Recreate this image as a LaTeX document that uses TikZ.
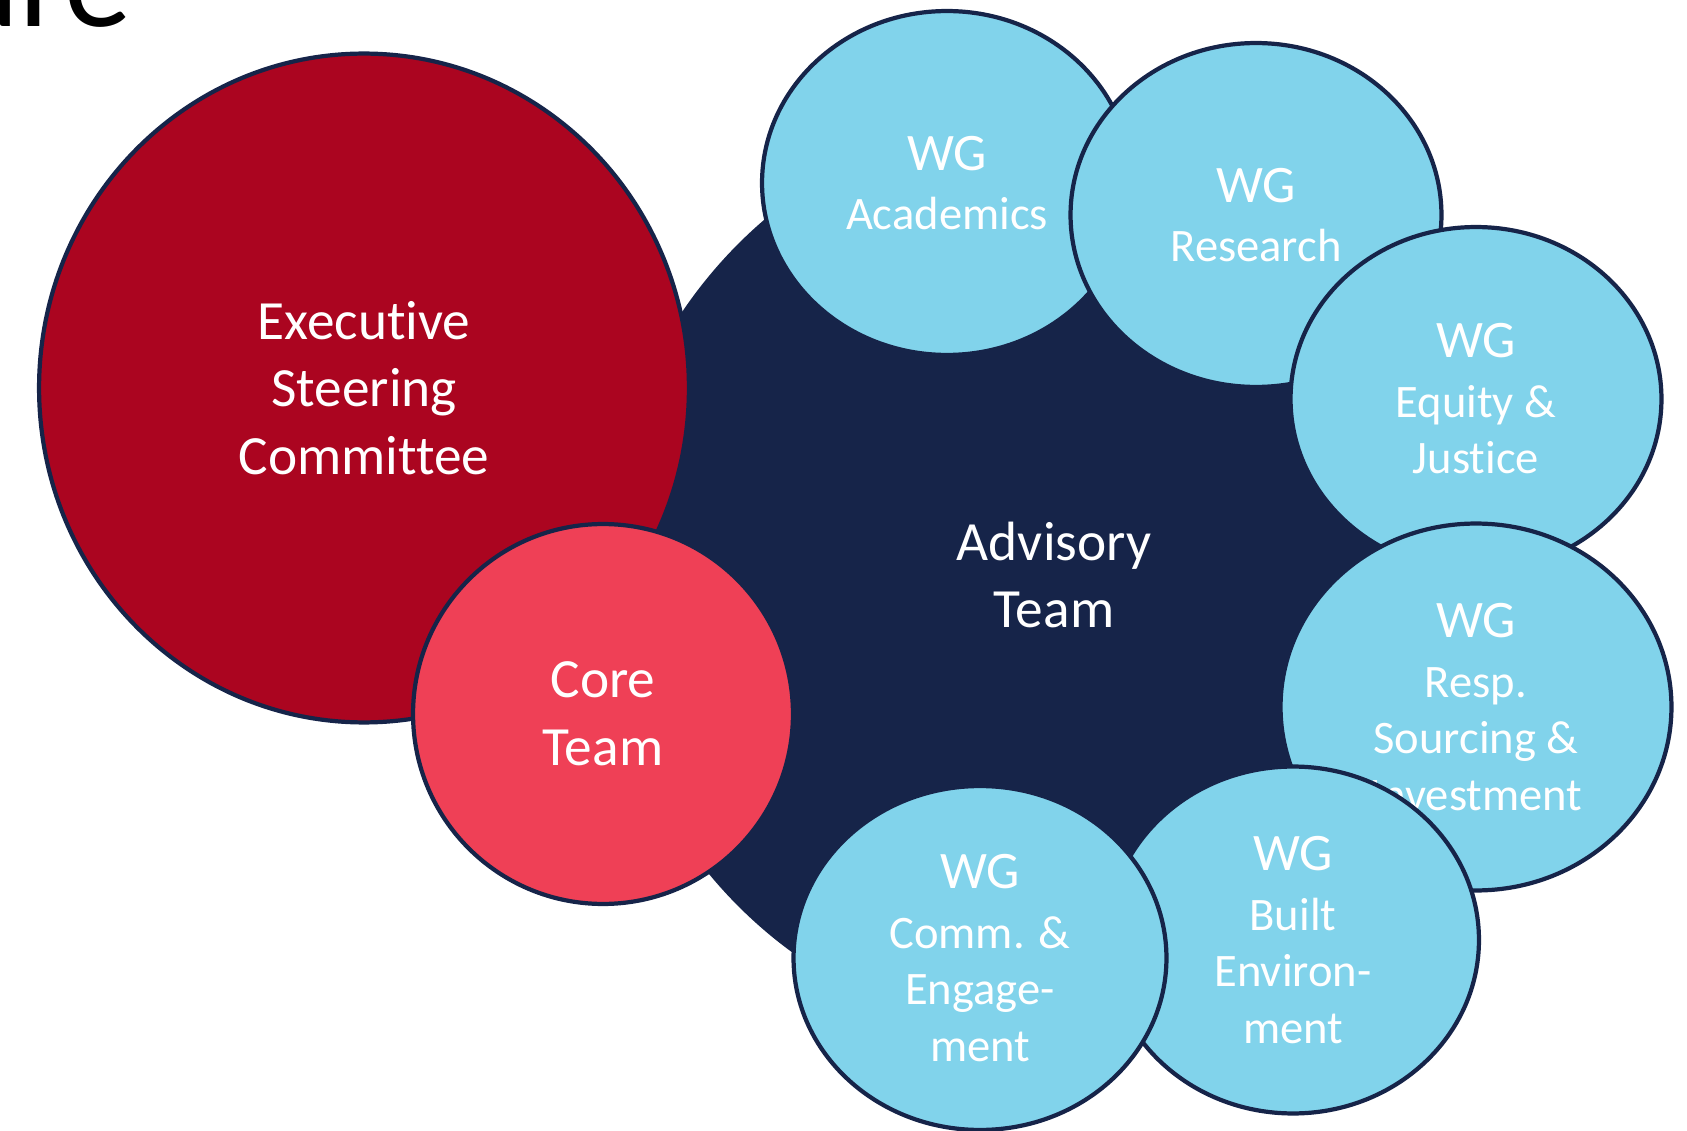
\documentclass[tikz,border=0pt]{standalone}
\usepackage{fontspec}
\setmainfont{Carlito}[Ligatures={NoCommon}]
\usetikzlibrary{shapes.geometric}

\definecolor{azred}{HTML}{AB0520}
\definecolor{azbloom}{HTML}{EF4056}
\definecolor{aznavy}{HTML}{162449}
\definecolor{azsky}{HTML}{81D3EB}
\newcommand{\wghead}{{\fontsize{30}{34}\selectfont WG}\\[2pt]}

\begin{document}
\begin{tikzpicture}[x=0.02cm, y=-0.02cm,
  team/.style={ellipse, inner sep=0pt, text=white, align=center, font=\fontsize{31.5}{38.5}\selectfont},
  wg/.style={ellipse, draw=aznavy, line width=2.4pt, fill=azsky, inner sep=0pt, text=white, align=center, font=\fontsize{26.5}{32}\selectfont}]
\clip (0,0) rectangle (1687,1131);

% Titelrest oben links
\node[anchor=base west, inner sep=0pt, font=\fontsize{77}{80}\selectfont] (title) at (-52,27) {ure};

% Advisory Team
\node[team, fill=aznavy, minimum width=18.08cm, minimum height=18.52cm] (advisory) at (1054,575) {Advisory\\Team};

% Executive Steering Committee
\node[team, fill=azred, draw=aznavy, line width=2.4pt, minimum width=13cm, minimum height=13.38cm] (exec) at (364,388) {Executive\\Steering\\Committee};

% Core Team
\node[team, fill=azbloom, draw=aznavy, line width=2.4pt, minimum width=7.6cm, minimum height=7.6cm] (core) at (603,714) {Core\\Team};

% Arbeitsgruppen
\node[wg, minimum width=7.4cm, minimum height=6.88cm] (academics) at (947,183) {\wghead Academics};
\node[wg, minimum width=7.42cm, minimum height=6.88cm] (research) at (1256,215) {\wghead Research};
\node[wg, minimum width=7.42cm, minimum height=6.88cm] (equity) at (1476,399) {\wghead Equity \&\\Justice};
\node[wg, minimum width=7.82cm, minimum height=7.34cm] (sourcing) at (1476,707) {\wghead Resp.\\Sourcing \&\\Investment};
\node[wg, minimum width=7.44cm, minimum height=6.94cm] (built) at (1293,940) {\wghead Built\\Environ-\\ment};
\node[wg, minimum width=7.46cm, minimum height=6.88cm] (comm) at (980,958) {\wghead Comm. \&\\Engage-\\ment};
\end{tikzpicture}
\end{document}
